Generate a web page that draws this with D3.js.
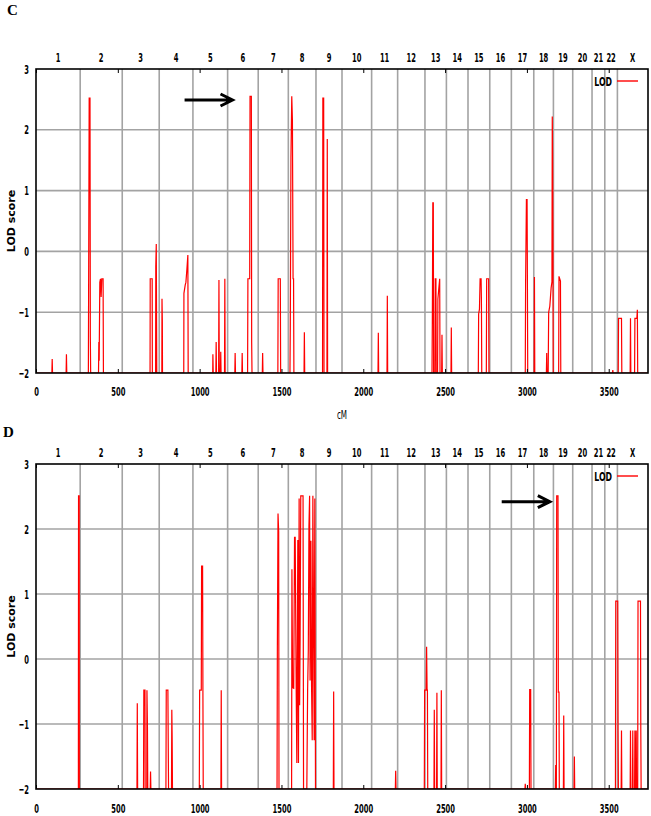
<!DOCTYPE html>
<html>
<head>
<meta charset="utf-8">
<script src="https://cdn.jsdelivr.net/npm/d3@7"></script>
<style>
  body { margin: 0; background: #fff; }
  text { fill: #000; }
</style>
</head>
<body>
<script>
// chromosome names and start positions (cM) along the genome
var chromNames = ["1","2","3","4","5","6","7","8","9","10","11","12","13","14","15","16","17","18","19","20","21","22","X"];
var chromStarts = [0,270,527,753,959,1171,1358,1542,1711,1870,2051,2210,2377,2508,2640,2773,2905,3042,3162,3280,3398,3476,3553];
var genomeEnd = 3740;

var xTicks = [0,500,1000,1500,2000,2500,3000,3500];
var yTicks = [-2,-1,0,1,2,3];

// LOD profile, panel C  [cM, LOD]  (-2 = floor of the plot)
var lodC = [
  [0,-2],
  [97,-2],[99,-1.77],[101,-2],
  [184,-2],[186,-1.69],[188,-2],
  [320,-2],[322,-0.21],[325,2.52],[330,2.52],[332,-1.4],[334,-2],
  [382,-2],[384,-1.49],[386,-1.8],[390,-0.51],[394,-0.45],[398,-0.75],[402,-0.45],[410,-0.45],[412,-2],
  [697,-2],[698,-0.45],[710,-0.45],[711,-2],
  [731,-2],[732,-0.25],[735,0.12],[738,-2],
  [769,-2],[770,-0.78],[772,-1.15],[773,-2],
  [903,-2],[904,-0.69],[912,-0.55],[916,-0.51],[922,-0.3],[928,-0.06],[930,-2],
  [1080,-2],[1081,-1.69],[1083,-2],
  [1099,-2],[1101,-1.49],[1103,-2],
  [1116,-2],[1118,-0.47],[1120,-2],
  [1127,-2],[1129,-1.65],[1131,-2],
  [1152,-2],[1154,-0.45],[1156,-2],
  [1215,-2],[1217,-1.67],[1219,-2],
  [1258,-2],[1260,-1.67],[1262,-2],
  [1293,-2],[1295,-0.45],[1306,-0.45],[1308,2.55],[1316,2.55],[1318,-1.5],[1320,-2],
  [1383,-2],[1385,-1.67],[1387,-2],
  [1478,-2],[1480,-0.45],[1493,-0.45],[1495,-2],
  [1552,-2],[1554,-1.25],[1558,1.54],[1563,2.55],[1567,2.16],[1571,-0.45],[1574,-0.45],[1576,-2],
  [1638,-2],[1640,-1.33],[1642,-2],
  [1751,-2],[1753,2.52],[1758,2.52],[1760,-2],
  [1778,-2],[1780,1.85],[1782,-2],
  [2090,-2],[2092,-1.34],[2094,-2],
  [2145,-2],[2147,-0.73],[2149,-2],
  [2420,-2],[2422,-1.15],[2425,0.8],[2428,0.8],[2430,-2],
  [2438,-2],[2440,-0.45],[2444,-0.45],[2446,-2],
  [2454,-2],[2456,-0.78],[2462,-0.6],[2467,-0.45],[2469,-2],
  [2479,-2],[2481,-1.37],[2483,-2],
  [2536,-2],[2538,-1.25],[2540,-2],
  [2703,-2],[2705,-1.03],[2710,-0.95],[2714,-0.45],[2720,-0.45],[2722,-0.79],[2724,-2],
  [2752,-2],[2754,-0.45],[2766,-0.45],[2768,-2],
  [2990,-2],[2992,-0.51],[2997,0.85],[3001,0.85],[3003,-0.45],[3005,-2],
  [3044,-2],[3046,-0.42],[3048,-2],
  [3119,-2],[3121,-1.67],[3123,-2],
  [3130,-2],[3133,-1.0],[3140,-0.9],[3148,-0.6],[3153,-0.5],[3155,2.22],[3157,1.6],[3159,0.3],[3161,-2],
  [3194,-2],[3196,-0.41],[3205,-0.49],[3207,-2],
  [3523,-2],[3525,-1.95],[3527,-2],
  [3558,-2],[3560,-1.1],[3578,-1.1],[3580,-2],
  [3631,-2],[3633,-1.1],[3635,-2],
  [3658,-2],[3660,-1.1],[3672,-1.1],[3675,-0.96],[3677,-2],
  [3740,-2]
];

// LOD profile, panel D
var lodD = [
  [0,-2],
  [259,-2],[260,2.51],[264,2.51],[265,-2],
  [617,-2],[619,-0.68],[621,-2],
  [657,-2],[659,-0.48],[666,-0.48],[667,-2],[677,-2],[678,-0.48],[681,-1.04],[683,-2],
  [698,-2],[700,-1.73],[702,-2],
  [794,-2],[796,-0.48],[806,-0.48],[808,-1.27],[810,-2],
  [828,-2],[830,-0.78],[832,-1.2],[834,-2],
  [998,-2],[1000,-0.48],[1010,-0.48],[1012,1.43],[1018,1.43],[1020,-0.48],[1022,-2],
  [1130,-2],[1132,-0.48],[1134,-2],
  [1473,-2],[1475,0.19],[1479,2.24],[1483,1.96],[1485,-2],
  [1562,-2],[1564,1.38],[1568,-0.44],[1575,-0.45],[1580,1.87],[1584,1.87],[1590,-0.45],[1594,-1.6],
  [1600,1.83],[1604,-1.6],[1608,2.47],[1611,-0.71],[1614,0.3],[1618,2.51],[1626,2.51],[1632,2.51],[1635,-2],
  [1655,-2],[1660,-0.45],[1664,0.12],[1668,2.04],[1672,2.51],[1675,-0.33],[1680,1.82],[1684,-0.42],
  [1688,-1.25],[1692,2.51],[1697,0.17],[1700,-1.25],[1704,2.47],[1708,-2],
  [1817,-2],[1819,-0.5],[1821,-2],
  [2196,-2],[2198,-1.72],[2200,-2],
  [2373,-2],[2375,-0.48],[2384,-0.48],[2387,0.19],[2390,-0.48],[2392,-0.48],[2394,-2],
  [2432,-2],[2434,-0.78],[2436,-2],
  [2448,-2],[2450,-0.52],[2452,-2],
  [2475,-2],[2477,-0.48],[2479,-2],
  [2988,-2],[2990,-1.92],[2992,-2],
  [3015,-2],[3017,-0.47],[3023,-0.47],[3025,-2],
  [3174,-2],[3176,-1.63],[3178,-2],
  [3180,-2],[3182,2.51],[3190,2.51],[3192,-0.51],[3196,-0.51],[3198,-2],
  [3223,-2],[3225,-0.87],[3227,-2],
  [3288,-2],[3290,-1.5],[3292,-2],
  [3541,-2],[3543,0.89],[3555,0.89],[3557,-1.1],[3559,-2],
  [3576,-2],[3578,-1.1],[3580,-2],
  [3631,-2],[3633,-1.1],[3635,-2],[3645,-2],[3647,-1.1],[3649,-2],
  [3658,-2],[3660,-1.1],[3662,-2],[3666,-2],[3668,-1.1],[3670,-2],
  [3677,-2],[3679,0.89],[3694,0.89],[3696,-1.1],[3698,-2],
  [3740,-2]
];

// arrow annotations [cM, LOD] (tail -> head)
var arrowC = [[908,2.49],[1201,2.49]];
var arrowD = [[2846,2.42],[3140,2.42]];

var W = 651, H = 816;
var svg = d3.select("body").append("svg").attr("width", W).attr("height", H);

var tickFont = "'DejaVu Sans', sans-serif";

// gnuplot-style narrow lettering: squash glyphs horizontally, keep anchor x
function narrow(sel, sx){
  sel.each(function(){
    var t = d3.select(this);
    var x0 = +t.attr("x") || 0;
    t.attr("x", x0 / sx).attr("transform", "scale(" + sx + ",1)");
  });
}

function drawPanel(letter, top, bottom, data, arrow, tickGap, showCM, id){
  var x = d3.scaleLinear().domain([0, genomeEnd]).range([36, 648]);
  var y = d3.scaleLinear().domain([-2, 3]).range([bottom, top]);
  var g = svg.append("g");

  // panel letter
  g.append("text")
   .attr("x", letter == "C" ? 7 : 3)
   .attr("y", letter == "C" ? 15 : 437)
   .attr("font-family", "'Liberation Serif', serif")
   .attr("font-weight", "bold")
   .attr("font-size", 15)
   .text(letter);

  // horizontal grid
  g.append("g").selectAll("line")
   .data(yTicks.slice(1, -1))
   .enter().append("line")
   .attr("x1", x(0)).attr("x2", x(genomeEnd))
   .attr("y1", d => y(d)).attr("y2", d => y(d))
   .attr("stroke", "#a3a3a3").attr("stroke-width", 1.6);

  // chromosome boundaries
  g.append("g").selectAll("line")
   .data(chromStarts.slice(1))
   .enter().append("line")
   .attr("x1", d => x(d)).attr("x2", d => x(d))
   .attr("y1", top).attr("y2", bottom)
   .attr("stroke", "#a3a3a3").attr("stroke-width", 1.6);

  // chromosome labels
  var ends = chromStarts.slice(1).concat([genomeEnd]);
  g.append("g").selectAll("text")
   .data(chromNames)
   .enter().append("text")
   .attr("x", (d, i) => x((chromStarts[i] + ends[i]) / 2))
   .attr("y", top - 7)
   .attr("text-anchor", "middle")
   .attr("font-family", tickFont).attr("font-weight", "bold").attr("font-size", 13)
   .text(d => d)
   .call(narrow, 0.52);

  // LOD line
  svg.append("clipPath").attr("id", "clip" + id)
     .append("rect").attr("x", x(0)).attr("y", top)
     .attr("width", x(genomeEnd) - x(0)).attr("height", bottom - top);
  var line = d3.line().x(d => x(d[0])).y(d => y(d[1]));
  g.append("path")
   .datum(data)
   .attr("clip-path", "url(#clip" + id + ")")
   .attr("fill", "none")
   .attr("stroke", "#ff0000")
   .attr("stroke-width", 1.2)
   .attr("d", line);

  // frame
  g.append("rect")
   .attr("x", x(0)).attr("y", top)
   .attr("width", x(genomeEnd) - x(0)).attr("height", bottom - top)
   .attr("fill", "none").attr("stroke", "#000").attr("stroke-width", 1.6);

  // bottom axis
  var bx = g.append("g").attr("transform", "translate(0," + bottom + ")")
    .call(d3.axisBottom(x).tickValues(xTicks).tickFormat(d3.format("d"))
            .tickSize(-4).tickPadding(tickGap));
  bx.select(".domain").remove();
  bx.selectAll("text").attr("font-family", tickFont).attr("font-weight", "bold")
    .attr("font-size", 13).call(narrow, 0.52);

  // top mirror ticks
  var tx = g.append("g").attr("transform", "translate(0," + top + ")")
    .call(d3.axisTop(x).tickValues(xTicks).tickSize(-4).tickFormat(""));
  tx.select(".domain").remove();

  // left axis
  var ly = g.append("g").attr("transform", "translate(" + x(0) + ",0)")
    .call(d3.axisLeft(y).tickValues(yTicks).tickFormat(d3.format("d"))
            .tickSize(0).tickPadding(7));
  ly.select(".domain").remove();
  ly.selectAll("text").attr("font-family", tickFont).attr("font-weight", "bold")
    .attr("font-size", 13).call(narrow, 0.52);

  // y title
  g.append("text")
   .attr("transform", "translate(15," + ((top + bottom) / 2) + ") rotate(-90)")
   .attr("text-anchor", "middle")
   .attr("font-family", tickFont).attr("font-weight", "bold").attr("font-size", 11)
   .text("LOD score");

  if (showCM) {
    g.append("text")
     .attr("x", (x(0) + x(genomeEnd)) / 2).attr("y", bottom + 46)
     .attr("text-anchor", "middle")
     .attr("font-family", tickFont).attr("font-size", 12)
     .text("cM").call(narrow, 0.6);
  }

  // legend
  var legY = top + 12;
  g.append("text")
   .attr("x", 612).attr("y", legY + 5)
   .attr("text-anchor", "end")
   .attr("font-family", tickFont).attr("font-weight", "bold").attr("font-size", 13)
   .text("LOD").call(narrow, 0.6);
  g.append("line")
   .attr("x1", 617).attr("x2", 638).attr("y1", legY).attr("y2", legY)
   .attr("stroke", "#ff0000").attr("stroke-width", 1.4);

  // arrow
  var ax1 = x(arrow[0][0]), ax2 = x(arrow[1][0]), ay = y(arrow[0][1]);
  g.append("path")
   .attr("d", "M" + ax1 + "," + ay + "L" + (ax2 - 1) + "," + ay +
              "M" + (ax2 - 12) + "," + (ay - 6) + "L" + ax2 + "," + ay + "L" + (ax2 - 12) + "," + (ay + 6))
   .attr("fill", "none").attr("stroke", "#000").attr("stroke-width", 3);
}

drawPanel("C", 69, 373, lodC, arrowC, 14, true, "c");
drawPanel("D", 464, 789, lodD, arrowD, 15, false, "d");
</script>
</body>
</html>
